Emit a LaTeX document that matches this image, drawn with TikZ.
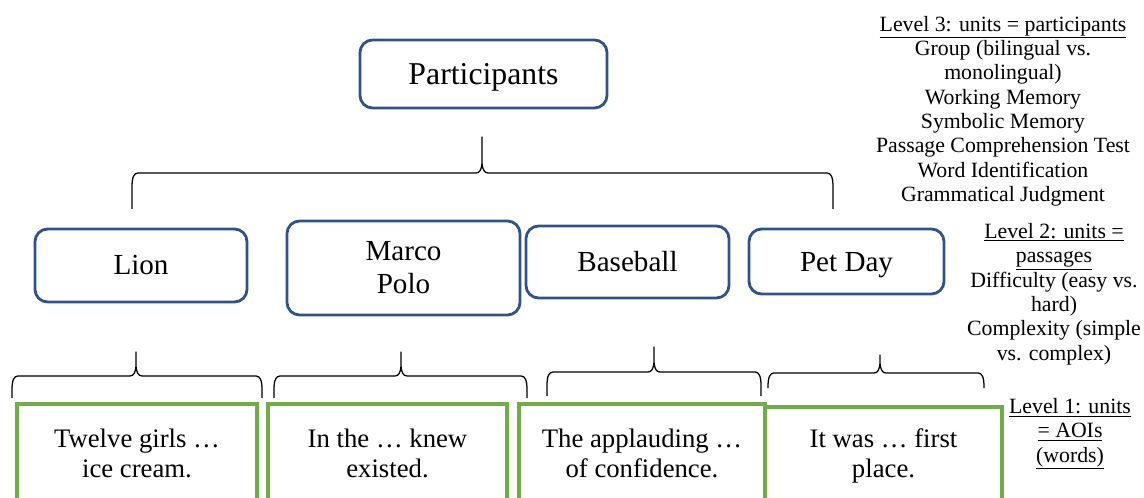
\documentclass[tikz,border=0pt]{standalone}
\usepackage{fontspec}
\setmainfont{Liberation Serif}
\usepackage{xcolor}
\usepackage{tikz}

\definecolor{boxblue}{RGB}{47,82,143}
\definecolor{aoigreen}{RGB}{112,173,71}

% brace: left x, tip x, right x, end y, bar y, tip y
\newcommand{\levelbrace}[6]{%
  \draw[braceline] (#1,#4) -- (#1,#5+14)
    .. controls (#1,#5+4) and (#1+2,#5) .. (#1+6,#5) -- (#2-6,#5)
    .. controls (#2-2,#5) and (#2,#5-4) .. (#2,#5-12) -- (#2,#6)
    -- (#2,#5-12) .. controls (#2,#5-4) and (#2+2,#5) .. (#2+6,#5)
    -- (#3-6,#5) .. controls (#3-2,#5) and (#3,#5+4) .. (#3,#5+14)
    -- (#3,#4);}

\begin{document}
\begin{tikzpicture}[x=0.025cm,y=-0.025cm,
  levelbox/.style={draw=boxblue,line width=2pt,rounded corners=9pt,align=center,
    font=\fontsize{20.7}{23.5}\selectfont},
  aoibox/.style={draw=aoigreen,line width=2.2pt,align=center,
    font=\fontsize{19}{21.3}\selectfont},
  note/.style={align=center,inner sep=0pt,font=\fontsize{15.5}{17.3}\selectfont},
  braceline/.style={line width=0.9pt,line join=round}]
\clip (0,0) rectangle (1144,498);
% Level 3
\node[levelbox,font=\fontsize{22.6}{25}\selectfont,text depth=0pt,minimum width=6.175cm,minimum height=1.7cm]
  (part) at (483.5,74) {Participants};
\levelbrace{132}{482}{833}{209}{173}{137}
% Level 2
\node[levelbox,minimum width=5.3cm,minimum height=1.825cm] (lion) at (141,265.5) {Lion};
\node[levelbox,minimum width=5.825cm,minimum height=2.35cm] (marco) at (403.5,268) {Marco\\Polo};
\node[levelbox,minimum width=5.075cm,minimum height=1.8cm] (base) at (627.5,262) {Baseball};
\node[levelbox,text depth=0pt,minimum width=4.875cm,minimum height=1.625cm] (pet) at (846.5,261.5) {Pet Day};
\levelbrace{12}{136}{262}{398}{376}{352}
\levelbrace{274}{401}{527}{398}{376}{352}
\levelbrace{547}{654}{761}{396}{372}{347}
\levelbrace{768}{880}{984}{388}{373}{355}
% Level 1
\node[aoibox,minimum width=6cm,minimum height=2.45cm] (aoilion) at (137,453) {Twelve girls …\\ice cream.};
\node[aoibox,minimum width=5.975cm,minimum height=2.45cm] (aoimarco) at (387.5,453) {In the … knew\\existed.};
\node[aoibox,minimum width=6.15cm,minimum height=2.45cm] (aoibase) at (642,453) {The applauding …\\of confidence.};
\node[aoibox,minimum width=5.925cm,minimum height=2.45cm] (aoipet) at (883.5,456) {It was … first\\place.};
% Labels
\node[note] (lvlthree) at (1003,111) {\underline{Level 3: units = participants}\\Group (bilingual vs.\\monolingual)\\Working Memory\\Symbolic Memory\\Passage Comprehension Test\\Word Identification\\Grammatical Judgment};
\node[note] (lvltwo) at (1054,294) {\underline{Level 2: units =}\\\underline{passages}\\Difficulty (easy vs.\\hard)\\Complexity (simple\\vs. complex)};
\node[note] (lvlone) at (1070,434) {\underline{Level 1: units}\\\underline{= AOIs}\\\underline{(words)}};
\end{tikzpicture}
\end{document}
